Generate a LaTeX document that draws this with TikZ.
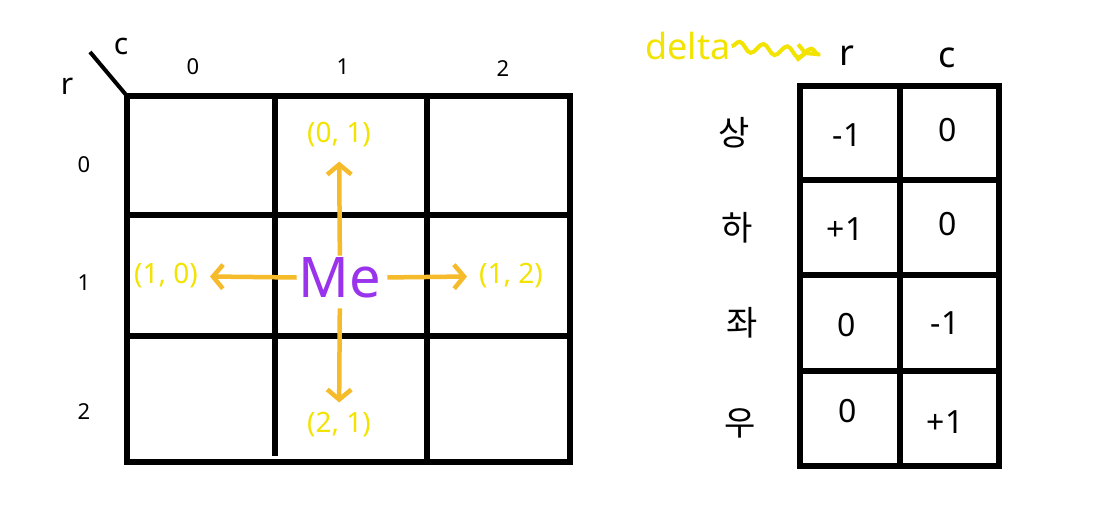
\documentclass[tikz,border=0pt]{standalone}
\usepackage{fontspec}
\setmainfont{Noto Sans}
\newfontfamily\korfont{Noto Sans CJK KR}
\usetikzlibrary{arrows.meta,decorations.pathmorphing}
\definecolor{posyellow}{HTML}{F2E300}
\definecolor{movegold}{HTML}{F6BB2A}
\definecolor{mepurple}{HTML}{9A33EC}

\begin{document}
\begin{tikzpicture}[x=1pt,y=-1pt,
    gridline/.style={line width=6.5pt,line cap=rect},
    idx/.style={font=\fontsize{22}{24}\selectfont},
    axis/.style={font=\fontsize{30}{32}\selectfont},
    cellpos/.style={text=posyellow,font=\fontsize{28}{30}\selectfont,inner sep=2pt},
    move/.style={draw=movegold,line width=4.5pt,-{Straight Barb[length=10pt,width=24pt]}},
    val/.style={font=\fontsize{32}{34}\selectfont},
    dirname/.style={font=\korfont\fontsize{34}{36}\selectfont}]
\useasboundingbox[fill=white] (0,0) rectangle (1119,513);
% board
\draw[gridline] (127,96) rectangle (570,462);
\draw[gridline] (275,96) -- (275,453);
\draw[gridline] (427,96) -- (427,462);
\draw[gridline] (127,215) -- (570,215);
\draw[gridline] (127,336) -- (570,336);
\coordinate (corner) at (127,96);
\coordinate (slash) at (90,52);
\draw[line width=4pt] (slash) -- (corner);
\node[axis] (cname) at (121,46) {c};
\node[axis] (rname) at (67,86) {r};
\node[idx] (c0) at (193,67) {0};
\node[idx] (c1) at (343,67) {1};
\node[idx] (c2) at (503,69) {2};
\node[idx] (r0) at (84,165) {0};
\node[idx] (r1) at (84,283) {1};
\node[idx] (r2) at (84,412) {2};
% me and neighbours
\node[text=mepurple,font=\fontsize{56}{58}\selectfont,inner sep=2pt] (me) at (340,278) {Me};
\node[cellpos] (up) at (339,135) {(0, 1)};
\node[cellpos] (left) at (166,276) {(1, 0)};
\node[cellpos] (right) at (511,276) {(1, 2)};
\node[cellpos] (down) at (339,425) {(2, 1)};
\draw[move,shorten >=12pt] (me) -- (up);
\draw[move,shorten >=10pt] (me) -- (left);
\draw[move,shorten >=10pt,shorten <=4pt] (me) -- (right);
\draw[move,shorten >=8pt,shorten <=8pt] (me) -- (down);
% delta table
\draw[gridline] (800,86) rectangle (999,466);
\draw[gridline] (900,86) -- (900,466);
\draw[gridline] (800,180) -- (999,180);
\draw[gridline] (800,275) -- (999,275);
\draw[gridline] (800,371) -- (999,371);
\node[font=\fontsize{36}{38}\selectfont] (rhead) at (847,56) {r};
\node[font=\fontsize{36}{38}\selectfont] (chead) at (947,58) {c};
\node[text=posyellow,font=\fontsize{36}{38}\selectfont,inner sep=1pt] (delta) at (688,46) {delta};
\draw[draw=posyellow,line width=4pt,-{Straight Barb[length=8pt,width=16pt]},
      decorate,decoration={snake,amplitude=5pt,segment length=24pt,post length=8pt},
      shorten >=28pt] (delta.east) -- (rhead.west);
\node[dirname] (sang) at (734,133) {상};
\node[dirname] (ha) at (737,228) {하};
\node[dirname] (jwa) at (742,323) {좌};
\node[dirname] (u) at (740,423) {우};
\node[val] (ur) at (847,135) {-1};
\node[val] (uc) at (948,130) {0};
\node[val] (dr) at (845,229) {+1};
\node[val] (dc) at (948,224) {0};
\node[val] (lr) at (847,325) {0};
\node[val] (lc) at (945,323) {-1};
\node[val] (rr) at (848,411) {0};
\node[val] (rc) at (945,422) {+1};
\end{tikzpicture}
\end{document}
